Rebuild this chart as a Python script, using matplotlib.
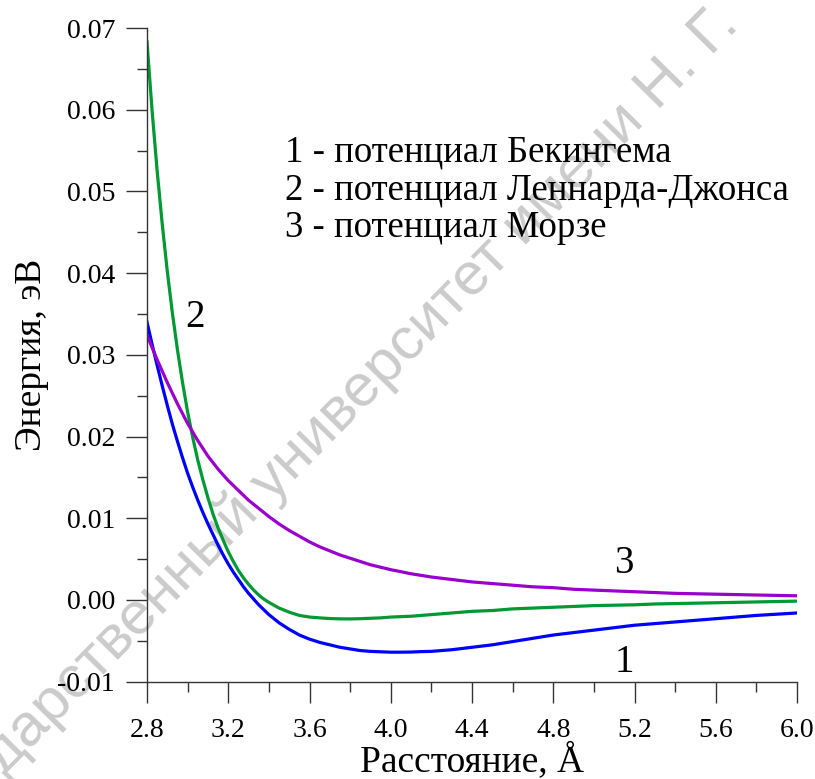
import numpy as np
import matplotlib
matplotlib.use("Agg")
import matplotlib.pyplot as plt
from matplotlib.ticker import MultipleLocator, FormatStrFormatter

plt.rcParams['font.family'] = ['Liberation Serif', 'DejaVu Serif']
plt.rcParams['axes.unicode_minus'] = False

# 1 - Buckingham (distance A, energy eV)
r_buck = [2.800, 2.825, 2.850, 2.875, 2.900, 2.925, 2.950, 2.975, 3.000, 3.025, 3.050,
          3.075, 3.100, 3.125, 3.150, 3.175, 3.200, 3.225, 3.250, 3.275, 3.300, 3.325,
          3.350, 3.375, 3.400, 3.45, 3.50, 3.55, 3.60, 3.65, 3.70, 3.75, 3.80, 3.85, 3.90,
          3.95, 4.00, 4.05, 4.10, 4.15, 4.20, 4.3, 4.4, 4.5, 4.6, 4.7, 4.8, 4.9, 5.0, 5.1,
          5.2, 5.3, 5.4, 5.5, 5.6, 5.7, 5.8, 5.9, 6.0]
e_buck = [0.0340, 0.0313, 0.0287, 0.0262, 0.0238, 0.0215, 0.0194, 0.0174, 0.0155, 0.0138,
          0.0122, 0.0107, 0.0093, 0.0080, 0.0067, 0.0055, 0.0044, 0.0034, 0.0025, 0.0016,
          0.0008, 0.0001, -0.0006, -0.0012, -0.0018, -0.0028, -0.0036, -0.0043, -0.0048,
          -0.0052, -0.0055, -0.0058, -0.0060, -0.0062, -0.0063, -0.00635, -0.0064, -0.0064,
          -0.00638, -0.00633, -0.0063, -0.0061, -0.0058, -0.0055, -0.0051, -0.0047, -0.0043,
          -0.0040, -0.0037, -0.0034, -0.0031, -0.0029, -0.0027, -0.0025, -0.0023, -0.0021,
          -0.0019, -0.00175, -0.0016]

# 2 - Lennard-Jones
r_lj = [2.800, 2.825, 2.850, 2.875, 2.900, 2.925, 2.950, 2.975, 3.000, 3.025, 3.050,
        3.075, 3.100, 3.125, 3.150, 3.175, 3.200, 3.225, 3.250, 3.275, 3.300, 3.325,
        3.350, 3.375, 3.400, 3.45, 3.50, 3.55, 3.60, 3.65, 3.70, 3.75, 3.80, 3.85, 3.90,
        3.95, 4.00, 4.1, 4.2, 4.3, 4.4, 4.5, 4.6, 4.7, 4.8, 4.9, 5.0, 5.1, 5.2, 5.3, 5.4,
        5.5, 5.6, 5.7, 5.8, 5.9, 6.0]
e_lj = [0.0683, 0.0599, 0.0525, 0.0460, 0.0402, 0.0351, 0.0306, 0.0266, 0.0230, 0.0199,
        0.0171, 0.0147, 0.0125, 0.0105, 0.0088, 0.0073, 0.0059, 0.0047, 0.0036, 0.0027,
        0.0019, 0.0012, 0.0006, 0.0001, -0.0003, -0.0010, -0.0015, -0.0019, -0.0021,
        -0.0022, -0.00228, -0.00232, -0.00233, -0.0023, -0.00225, -0.0022, -0.0021,
        -0.0020, -0.0018, -0.0016, -0.0014, -0.0013, -0.0011, -0.0010, -0.0009, -0.0008,
        -0.0007, -0.00065, -0.0006, -0.0005, -0.00045, -0.0004, -0.00035, -0.0003,
        -0.00025, -0.0002, -0.00015]

# 3 - Morse
r_morse = [2.80, 2.85, 2.90, 2.95, 3.00, 3.05, 3.10, 3.15, 3.20, 3.25, 3.30, 3.35, 3.40,
           3.45, 3.50, 3.55, 3.60, 3.65, 3.70, 3.75, 3.80, 3.85, 3.90, 3.95, 4.00, 4.1, 4.2,
           4.3, 4.4, 4.5, 4.6, 4.7, 4.8, 4.9, 5.0, 5.1, 5.2, 5.3, 5.4, 5.5, 5.6, 5.7, 5.8,
           5.9, 6.0]
e_morse = [0.0324, 0.0294, 0.0266, 0.0240, 0.0216, 0.0195, 0.0176, 0.0160, 0.0146, 0.0134,
           0.0122, 0.0112, 0.0102, 0.0093, 0.0085, 0.0078, 0.0071, 0.0065, 0.0060, 0.0055,
           0.0051, 0.0047, 0.0043, 0.0040, 0.0037, 0.0032, 0.0028, 0.0025, 0.0022, 0.0020,
           0.0018, 0.0016, 0.0015, 0.0013, 0.0012, 0.0011, 0.0010, 0.0009, 0.0008, 0.00075,
           0.0007, 0.00065, 0.0006, 0.00055, 0.0005]

legend_lines = ["1 - потенциал Бекингема",
                "2 - потенциал Леннарда-Джонса",
                "3 - потенциал Морзе"]

fig = plt.figure(figsize=(8.15, 7.79), dpi=100)
ax = fig.add_axes([0.18037, 0.12503, 0.79755, 0.83902])
ax.set_facecolor('none')

# watermark behind everything
fig.text(0.005, 0.005, "дарственный университет имени Н. Г. Чернышевского",
         family='Liberation Sans', fontsize=43, color='#cbcbcb', rotation=45.5,
         rotation_mode='anchor', ha='left', va='baseline', zorder=-5)

ax.plot(r_buck, e_buck, color='#0000ff', lw=2.3)
ax.plot(r_lj, e_lj, color='#009933', lw=2.3)
ax.plot(r_morse, e_morse, color='#9900cc', lw=2.3)

ax.set_xlim(2.8, 6.0)
ax.set_ylim(-0.01, 0.07)
ax.xaxis.set_major_locator(MultipleLocator(0.4))
ax.xaxis.set_minor_locator(MultipleLocator(0.2))
ax.yaxis.set_major_locator(MultipleLocator(0.01))
ax.yaxis.set_minor_locator(MultipleLocator(0.005))
ax.xaxis.set_major_formatter(FormatStrFormatter('%.1f'))
ax.yaxis.set_major_formatter(FormatStrFormatter('%.2f'))

for s in ['top', 'right']:
    ax.spines[s].set_visible(False)
for s in ['left', 'bottom']:
    ax.spines[s].set_color('#333333')
    ax.spines[s].set_linewidth(1.0)

ax.tick_params(which='major', length=15, width=1.0, color='#333333', labelsize=20)
ax.tick_params(which='minor', length=7, width=1.0, color='#333333')
ax.tick_params(axis='x', which='major', pad=11)
ax.tick_params(axis='y', which='major', pad=8)

ax.set_xlabel("Расстояние, Å", fontsize=27, labelpad=0)
ax.set_ylabel("Энергия, эВ", fontsize=27, labelpad=6)

for i, t in enumerate(legend_lines):
    ax.text(3.48, 0.0536 - i * 0.0046, t, fontsize=26.5, ha='left', va='baseline')

ax.text(3.036, 0.0334, "2", fontsize=28, ha='center', va='baseline')
ax.text(5.149, 0.0033, "3", fontsize=28, ha='center', va='baseline')
ax.text(5.149, -0.0088, "1", fontsize=28, ha='center', va='baseline')

fig.savefig("out.png", dpi=100)
